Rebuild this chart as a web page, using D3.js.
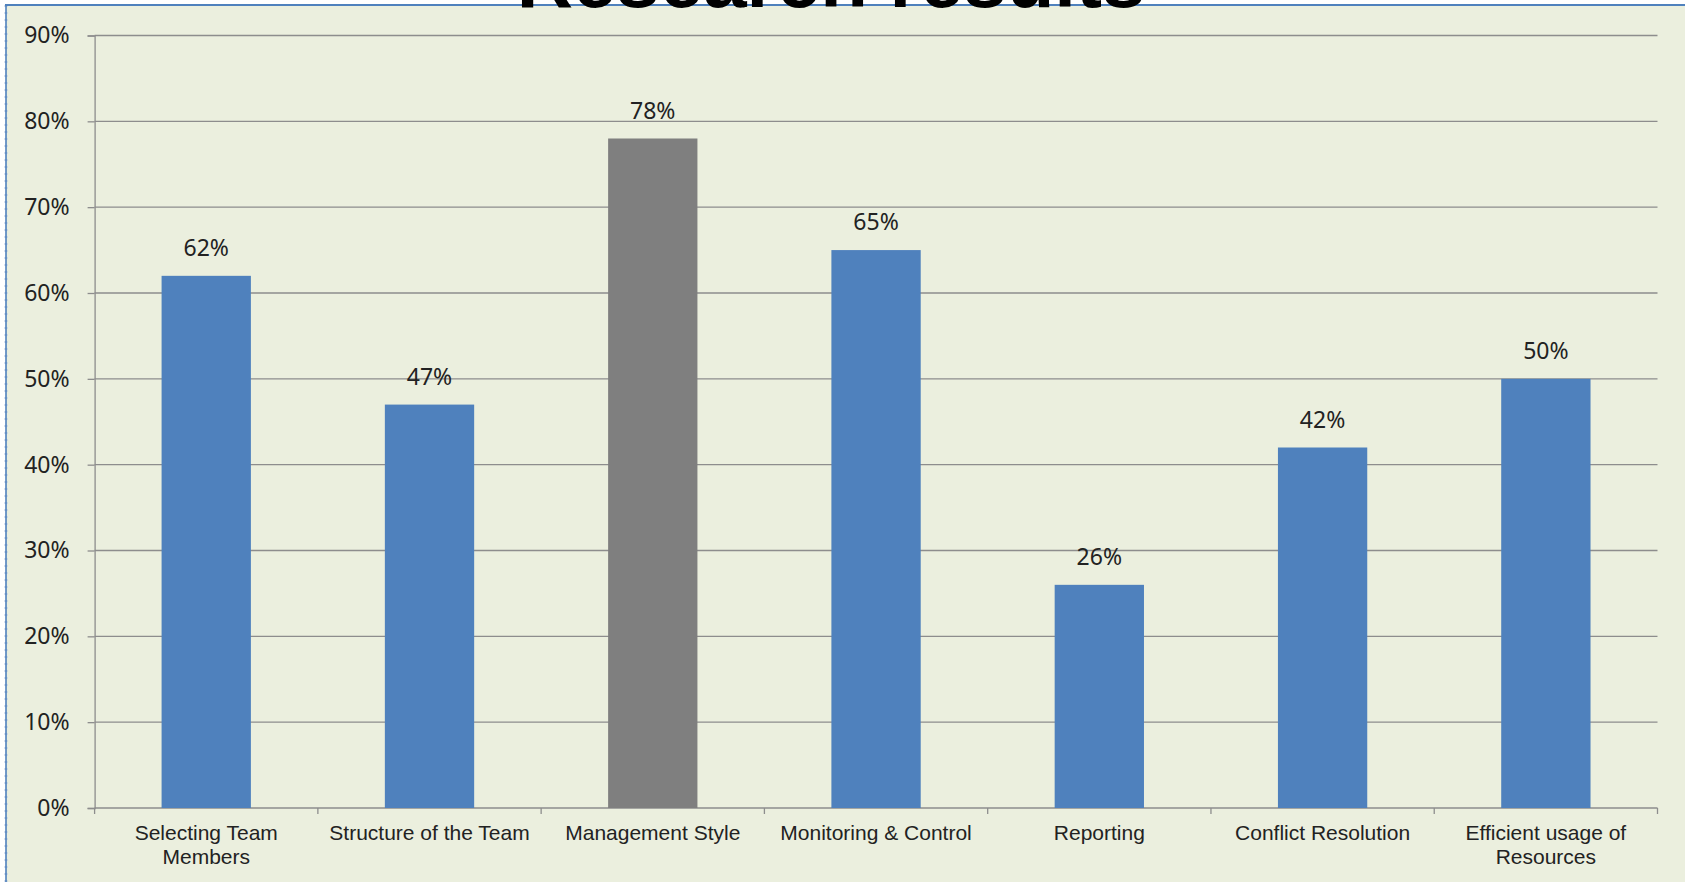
<!DOCTYPE html>
<html lang="en">
<head>
    <meta charset="UTF-8">
    <title>Research results</title>
    <script src="https://cdn.jsdelivr.net/npm/d3@7"></script>
    <style>
        body { margin: 0; background: #fff; }
        .grid line { stroke: #8d8d8d; stroke-width: 1.3; }
        .axis path, .axis line { stroke: #8d8d8d; stroke-width: 1.3; }
    </style>
</head>
<body>
<script>
    const categories = ["Selecting Team Members", "Structure of the Team", "Management Style",
        "Monitoring & Control", "Reporting", "Conflict Resolution", "Efficient usage of Resources"];
    const values = [0.62, 0.47, 0.78, 0.65, 0.26, 0.42, 0.50];
    const highlighted = ["Management Style"];
    const yTicks = [0, 0.1, 0.2, 0.3, 0.4, 0.5, 0.6, 0.7, 0.8, 0.9];
    const title = "Research results";

    const width = 1685, height = 882;
    const plot = {left: 94.6, right: 1657.5, top: 35.5, bottom: 808};

    const svg = d3.select("body").append("svg")
        .attr("width", width)
        .attr("height", height);

    // chart area
    svg.append("rect")
        .attr("x", 6).attr("y", 5)
        .attr("width", width).attr("height", height)
        .attr("fill", "#ebefde");
    svg.append("line")
        .attr("x1", 6).attr("x2", 6).attr("y1", 5).attr("y2", height)
        .attr("stroke", "#b9c9e0").attr("stroke-width", 3).attr("stroke-dasharray", "2,5");
    svg.append("line")
        .attr("x1", 6).attr("x2", 6).attr("y1", 5).attr("y2", height)
        .attr("stroke", "#4f81bd").attr("stroke-width", 1.6);
    svg.append("line")
        .attr("x1", 5).attr("x2", width).attr("y1", 5).attr("y2", 5)
        .attr("stroke", "#4f81bd").attr("stroke-width", 2.2);

    const x = d3.scaleBand().domain(categories)
        .range([plot.left, plot.right])
        .paddingInner(0.6).paddingOuter(0.3);
    const y = d3.scaleLinear().domain([0, 0.9]).range([plot.bottom, plot.top]);

    // gridlines
    svg.append("g").attr("class", "grid")
        .selectAll("line")
        .data(yTicks.slice(1))
        .join("line")
        .attr("x1", plot.left).attr("x2", plot.right)
        .attr("y1", d => y(d)).attr("y2", d => y(d));

    // y axis
    const yAxis = svg.append("g").attr("class", "axis")
        .attr("transform", `translate(${plot.left},0)`)
        .call(d3.axisLeft(y).tickValues(yTicks).tickFormat(d3.format(".0%")).tickSize(7).tickPadding(18));
    yAxis.selectAll("text")
        .style("font-family", "'Noto Sans', sans-serif")
        .style("font-size", "23px")
        .attr("fill", "#222");

    // x axis
    const xAxis = svg.append("g").attr("class", "axis")
        .attr("transform", `translate(0,${plot.bottom})`);
    xAxis.append("line")
        .attr("x1", plot.left).attr("x2", plot.right);
    const step = x.step();
    xAxis.selectAll("line.tick")
        .data(d3.range(categories.length + 1))
        .join("line").attr("class", "tick")
        .attr("x1", i => plot.left + i * step).attr("x2", i => plot.left + i * step)
        .attr("y1", 0).attr("y2", 6);

    const labels = xAxis.selectAll("text")
        .data(categories)
        .join("text")
        .attr("x", d => x(d) + x.bandwidth() / 2)
        .attr("y", 32)
        .attr("text-anchor", "middle")
        .style("font-family", "'Liberation Sans', Arial, sans-serif")
        .style("font-size", "21px")
        .attr("fill", "#222")
        .each(function (d) { wrap(d3.select(this), d, step * 0.97); });

    function wrap(text, str, maxW) {
        const words = str.split(" ");
        let line = [];
        let tspan = text.append("tspan").attr("x", text.attr("x")).attr("dy", 0);
        let lineNo = 0;
        words.forEach(w => {
            line.push(w);
            tspan.text(line.join(" "));
            if (tspan.node().getComputedTextLength() > maxW && line.length > 1) {
                line.pop();
                tspan.text(line.join(" "));
                line = [w];
                lineNo++;
                tspan = text.append("tspan").attr("x", text.attr("x")).attr("dy", 24).text(w);
            }
        });
    }

    // bars
    svg.append("g")
        .selectAll("rect")
        .data(categories)
        .join("rect")
        .attr("x", d => x(d))
        .attr("y", (d, i) => y(values[i]))
        .attr("width", x.bandwidth())
        .attr("height", (d, i) => y(0) - y(values[i]))
        .attr("fill", d => highlighted.includes(d) ? "#7f7f7f" : "#4f81bd");

    // data labels
    svg.append("g")
        .selectAll("text")
        .data(categories)
        .join("text")
        .attr("x", d => x(d) + x.bandwidth() / 2)
        .attr("y", (d, i) => y(values[i]) - 20)
        .attr("text-anchor", "middle")
        .style("font-family", "'Noto Sans', sans-serif")
        .style("font-size", "23px")
        .attr("fill", "#222")
        .text((d, i) => d3.format(".0%")(values[i]));

    // title, cut off by the top of the picture
    svg.append("text")
        .attr("x", 831)
        .attr("y", 7)
        .attr("text-anchor", "middle")
        .style("font-family", "'Liberation Sans', Arial, sans-serif")
        .style("font-weight", "bold")
        .style("font-size", "78px")
        .attr("fill", "#000")
        .text(title);
</script>
</body>
</html>
